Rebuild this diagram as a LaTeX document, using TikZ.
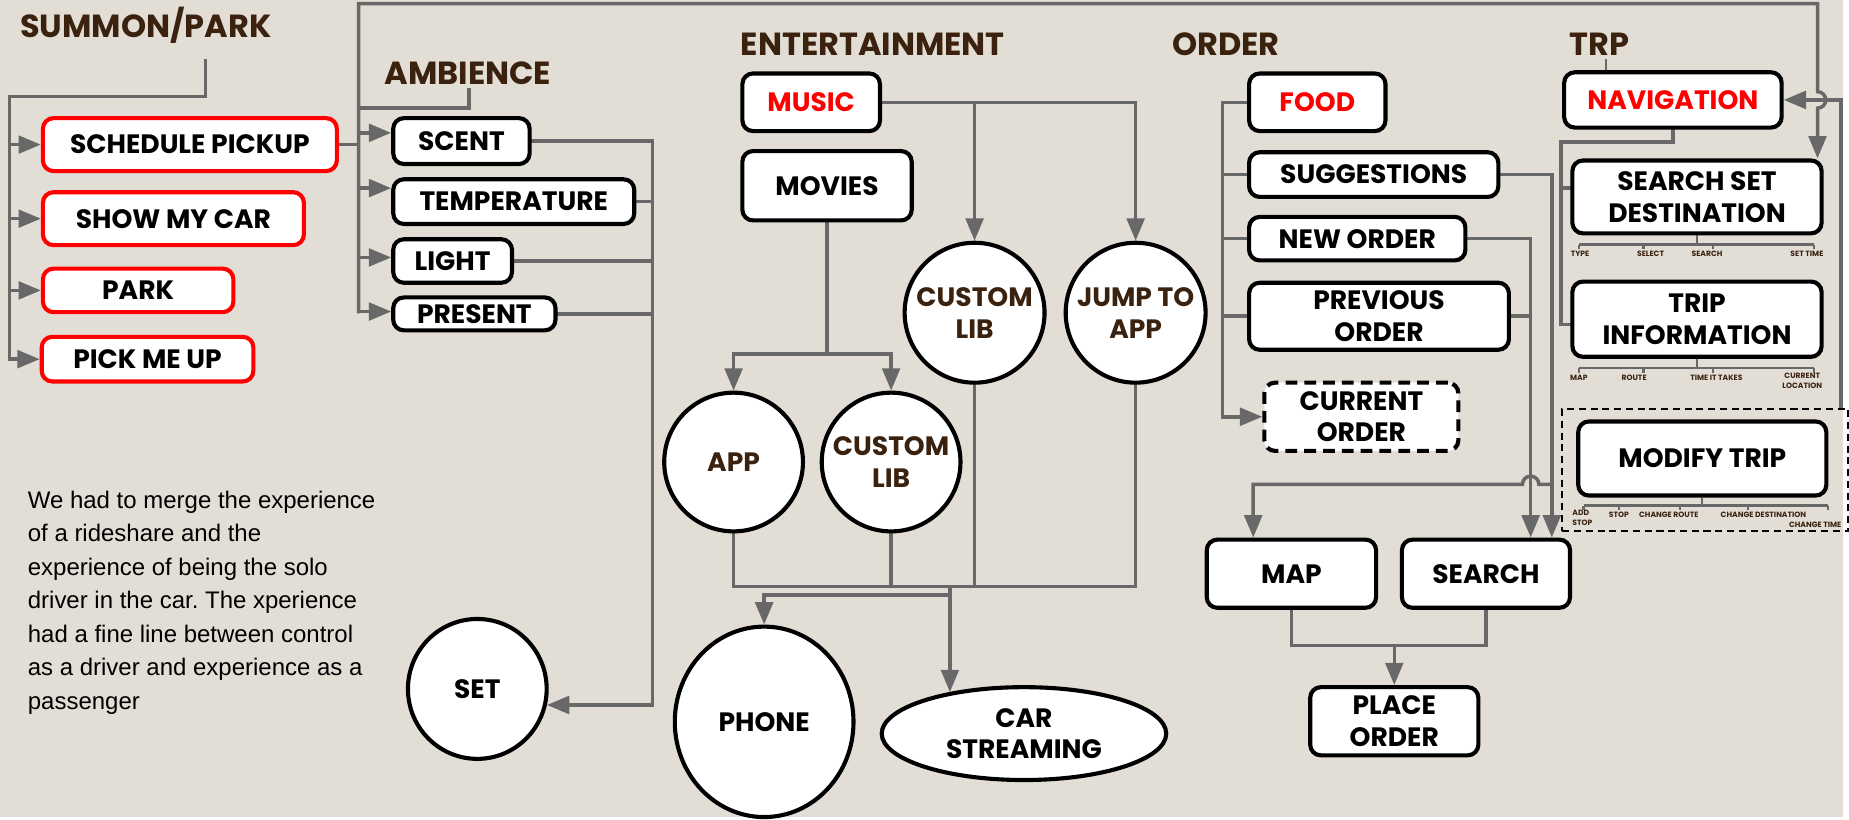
\documentclass[tikz,border=0pt]{standalone}
\usepackage{fontspec}
\setmainfont{Poppins}
\newfontfamily\arialf{Liberation Sans}
\usetikzlibrary{arrows.meta,shapes.geometric}
\definecolor{bgc}{HTML}{E2DED6}
\definecolor{connc}{HTML}{686868}
\definecolor{ttlc}{HTML}{3A220F}
\definecolor{redc}{HTML}{FF0000}
\newcommand\labfont{\fontsize{22.6}{27}\selectfont\bfseries}
\newcommand\ttlfont{\fontsize{27.2}{30}\selectfont\bfseries}
\newcommand\subfont{\fontsize{6.5}{9}\selectfont\bfseries}
\newcommand\parafont{\arialf\fontsize{20.4}{28.5}\selectfont}
\pgfdeclarelayer{back}
\pgfdeclarelayer{lines}
\pgfsetlayers{back,lines,main}
\frenchspacing
\begin{document}
\begin{tikzpicture}[x=1pt,y=-1pt,
  box/.style={draw=black,line width=3.5pt,rounded corners=9pt,fill=white,inner sep=0pt,font=\labfont,align=center},
  rbox/.style={box,draw=redc},
  circ/.style={ellipse,draw=black,line width=3.5pt,fill=white,inner sep=-22pt,font=\labfont,align=center},
  ttl/.style={font=\ttlfont,text=ttlc,inner sep=0pt,anchor=base west},
  sub/.style={font=\subfont,text=ttlc,inner sep=0pt,align=center},
  conn/.style={draw=connc,line width=3pt,line cap=rect},
  arr/.style={conn,-{Triangle[length=19pt,width=15pt]}},
  thinc/.style={draw=connc,line width=2pt}]
\begin{pgfonlayer}{back}
\useasboundingbox[fill=bgc] (0,0) rectangle (1568,695);
\end{pgfonlayer}

% ---------- titles
\node[ttl] (tsum) at (17,32) {SUMMON/PARK};
\node[ttl] (tamb) at (327,72) {AMBIENCE};
\node[ttl] (tent) at (630,47) {ENTERTAINMENT};
\node[ttl] (tord) at (997,47) {ORDER};
\node[ttl] (ttrp) at (1335,47) {TRP};

% ---------- summon / park
\node[rbox,minimum width=250,minimum height=45] (sched) at (161.5,123) {SCHEDULE PICKUP};
\node[rbox,minimum width=222,minimum height=45] (show) at (147.5,186) {SHOW MY CAR};
\node[rbox,minimum width=162,minimum height=37] (park) at (117.5,247) {PARK};
\node[rbox,minimum width=180,minimum height=38] (pick) at (125.5,305.5) {PICK ME UP};

% ---------- ambience
\node[box,minimum width=116,minimum height=39] (scent) at (392.5,120) {SCENT};
\node[box,minimum width=205,minimum height=38] (temp) at (437,171.5) {TEMPERATURE};
\node[box,minimum width=101,minimum height=37] (light) at (385,222) {LIGHT};
\node[box,minimum width=138,minimum height=28] (present) at (403.5,267) {PRESENT};
\node[circ,minimum width=118,minimum height=119] (set) at (406,586) {SET};

% ---------- entertainment
\node[box,minimum width=117,minimum height=49,text=redc] (music) at (690,87) {MUSIC};
\node[box,minimum width=144,minimum height=59] (movies) at (703.5,158) {MOVIES};
\node[circ,minimum width=119,minimum height=119,text=ttlc] (clibT) at (829,266) {CUSTOM\\LIB};
\node[circ,minimum width=119,minimum height=119,text=ttlc] (jump) at (966,266) {JUMP TO\\APP};
\node[circ,minimum width=118,minimum height=118,text=ttlc] (app) at (624,393) {APP};
\node[circ,minimum width=118,minimum height=118,text=ttlc] (clibB) at (758,393) {CUSTOM\\LIB};
\node[circ,minimum width=152,minimum height=162] (phone) at (650,614) {PHONE};
\node[circ,minimum width=242,minimum height=79] (car) at (871,624) {CAR\\STREAMING};

% ---------- order
\node[box,minimum width=116,minimum height=49,text=redc] (food) at (1120.5,87) {FOOD};
\node[box,minimum width=212,minimum height=38] (sugg) at (1168.5,148.5) {SUGGESTIONS};
\node[box,minimum width=184,minimum height=37] (neword) at (1154.5,203) {NEW ORDER};
\node[box,minimum width=221,minimum height=57] (prev) at (1173,269) {PREVIOUS\\ORDER};
\node[box,dash pattern=on 10pt off 6pt,minimum width=165,minimum height=58] (curr) at (1158,354.5) {CURRENT\\ORDER};
\node[box,minimum width=144,minimum height=58] (map) at (1098.5,488) {MAP};
\node[box,minimum width=143,minimum height=58] (search) at (1264,488) {SEARCH};
\node[box,minimum width=143,minimum height=58] (place) at (1186,613.5) {PLACE\\ORDER};

% ---------- trip
\node[box,minimum width=185,minimum height=47,text=redc] (nav) at (1423,85) {NAVIGATION};
\node[box,minimum width=212,minimum height=62] (ssd) at (1443.5,167.5) {SEARCH SET\\DESTINATION};
\node[box,minimum width=212,minimum height=64] (trip) at (1443.5,271.5) {TRIP\\INFORMATION};
\node[draw=black,line width=1.6pt,dash pattern=on 6pt off 4pt,minimum width=243,minimum height=104,inner sep=0pt] (mgrp) at (1450.5,400) {};
\node[box,minimum width=211,minimum height=63] (modify) at (1448,390) {MODIFY TRIP};

% sub labels
\node[sub] (l1) at (1344,216) {TYPE};
\node[sub] (l2) at (1404,216) {SELECT};
\node[sub] (l3) at (1452,216) {SEARCH};
\node[sub] (l4) at (1537,216) {SET TIME};
\node[sub] (l5) at (1343,321) {MAP};
\node[sub] (l6) at (1390,321) {ROUTE};
\node[sub] (l7) at (1460,321) {TIME IT TAKES};
\node[sub] (l8) at (1533,324) {CURRENT\\LOCATION};
\node[sub,align=left] (l9) at (1346,440.5) {ADD\\STOP};
\node[sub] (l10) at (1377,438) {STOP};
\node[sub] (l11) at (1419.5,438) {CHANGE ROUTE};
\node[sub] (l12) at (1500,438) {CHANGE DESTINATION};
\node[sub] (l13) at (1544,446) {CHANGE TIME};

% paragraph
\node[font=\parafont,anchor=north west,inner sep=0pt,align=left,text=black] (para) at (23.5,417.5)
 {We had to merge the experience\\of a rideshare and the\\experience of being the solo\\driver in the car. The xperience\\had a fine line between control\\as a driver and experience as a\\passenger};

% ================= connectors
\begin{pgfonlayer}{lines}
% summon
\coordinate (s0) at (175,52);
\coordinate (s1) at (175,82);
\coordinate (sb) at (8,82);
\draw[arr] (s0) -- (s1) -- (sb) |- (pick.west);
\foreach \n in {sched,show,park} \draw[arr] (sb |- \n.west) -- (\n.west);

% ambience bus and long top line
\coordinate (ab) at (305,3);
\coordinate (ya1) at (0,113);
\coordinate (ya2) at (0,160);
\coordinate (ya3) at (0,219);
\coordinate (ya4) at (0,265);
\coordinate (tr) at (1546,3);
\coordinate (hop1) at (1546,78);
\draw[arr] (ab |- ya4) -- (ab) -- (tr) -- (hop1) arc[start angle=-90,end angle=90,radius=7] -- (tr |- ssd.north);
\draw[conn] (sched.east) -- (sched.east -| ab);
\coordinate (am0) at (399,76);
\coordinate (am1) at (399,92);
\draw[conn] (am0) -- (am1) -- (am1 -| ab);
\draw[arr] (ab |- ya1) -- (scent.west |- ya1);
\draw[arr] (ab |- ya2) -- (temp.west |- ya2);
\draw[arr] (ab |- ya3) -- (light.west |- ya3);
\draw[arr] (ab |- ya4) -- (present.west |- ya4);
\coordinate (ar) at (555,0);
\foreach \n in {scent,temp,light,present} \draw[conn] (\n.east) -- (\n.east -| ar);
\draw[arr] (ar |- scent.east) |- (set.-13.6);

% entertainment
\draw[arr] (music.east) -| (jump.north);
\draw[arr] (clibT.north |- music.east) -- (clibT.north);
\coordinate (ym) at (0,301);
\draw[arr] (movies.south) -- (movies.south |- ym) -| (app.north);
\draw[arr] (movies.south |- ym) -| (clibB.north);
\coordinate (eb) at (808,499);
\coordinate (eb2) at (808,506);
\draw[conn] (app.south) |- (jump.south |- eb) -- (jump.south);
\draw[conn] (clibB.south) -- (clibB.south |- eb);
\draw[conn] (clibT.south) -- (clibT.south |- eb);
\draw[arr] (eb) -- (eb2) -| (phone.north);
\draw[arr] (eb) -- (eb |- car.151);

% order
\coordinate (ob) at (1040,0);
\draw[arr] (food.west) -| (ob |- curr.west) -- (curr.west);
\foreach \n in {sugg,neword,prev} \draw[conn] (ob |- \n.west) -- (\n.west);
\coordinate (xs1) at (1302,0);
\coordinate (xs2) at (1320,0);
\draw[arr] (sugg.east) -| (search.north -| xs2);
\draw[arr] (neword.east) -| (search.north -| xs1);
\draw[conn] (prev.east) -- (prev.east -| xs1);
\coordinate (ymap) at (0,412);
\coordinate (xm) at (1066,0);
\coordinate (hopR) at (1309,412);
\draw[arr] (xs2 |- ymap) -- (hopR) arc[start angle=0,end angle=-180,radius=7] -- (xm |- ymap) -- (map.north -| xm);
\coordinate (pb) at (1186,549);
\draw[conn] (map.south) |- (pb);
\draw[conn] (search.south) |- (pb);
\draw[arr] (pb) -- (place.north);

% trip
\coordinate (t0) at (1366,50);
\draw[draw=connc,line width=1.5pt] (t0) -- (nav.north -| t0);
\coordinate (nl) at (1328,121);
\coordinate (yt) at (0,276);
\coordinate (ys) at (0,160);
\draw[conn] (nav.south) |- (nl) |- (trip.west |- yt);
\draw[conn] (nl |- ys) -- (ssd.west |- ys);
\coordinate (xr) at (1566,0);
\draw[arr] (xr |- mgrp.north) |- (nav.east);

% sub-label trees
\coordinate (b1) at (0,208);
\draw[thinc] (ssd.south) -- (ssd.south |- b1);
\coordinate (b1l) at (1343,208); \coordinate (b1r) at (1543,208);
\draw[thinc] (b1l) -- (b1r);
\foreach \x in {1343,1398,1457,1543} \draw[thinc] (\x,208) -- (\x,212);
\coordinate (b2) at (0,313);
\draw[thinc] (trip.south) -- (trip.south |- b2);
\coordinate (b2l) at (1343,313); \coordinate (b2r) at (1543,313);
\draw[thinc] (b2l) -- (b2r);
\foreach \x in {1343,1398,1457,1543} \draw[thinc] (\x,313) -- (\x,317);
\coordinate (b3) at (0,430);
\draw[thinc] (modify.south) -- (modify.south |- b3);
\coordinate (b3l) at (1347,430); \coordinate (b3r) at (1555,430);
\draw[thinc] (b3l) -- (b3r);
\foreach \x in {1347,1377,1429,1487,1555} \draw[thinc] (\x,430) -- (\x,434);
\end{pgfonlayer}
\end{tikzpicture}
\end{document}
